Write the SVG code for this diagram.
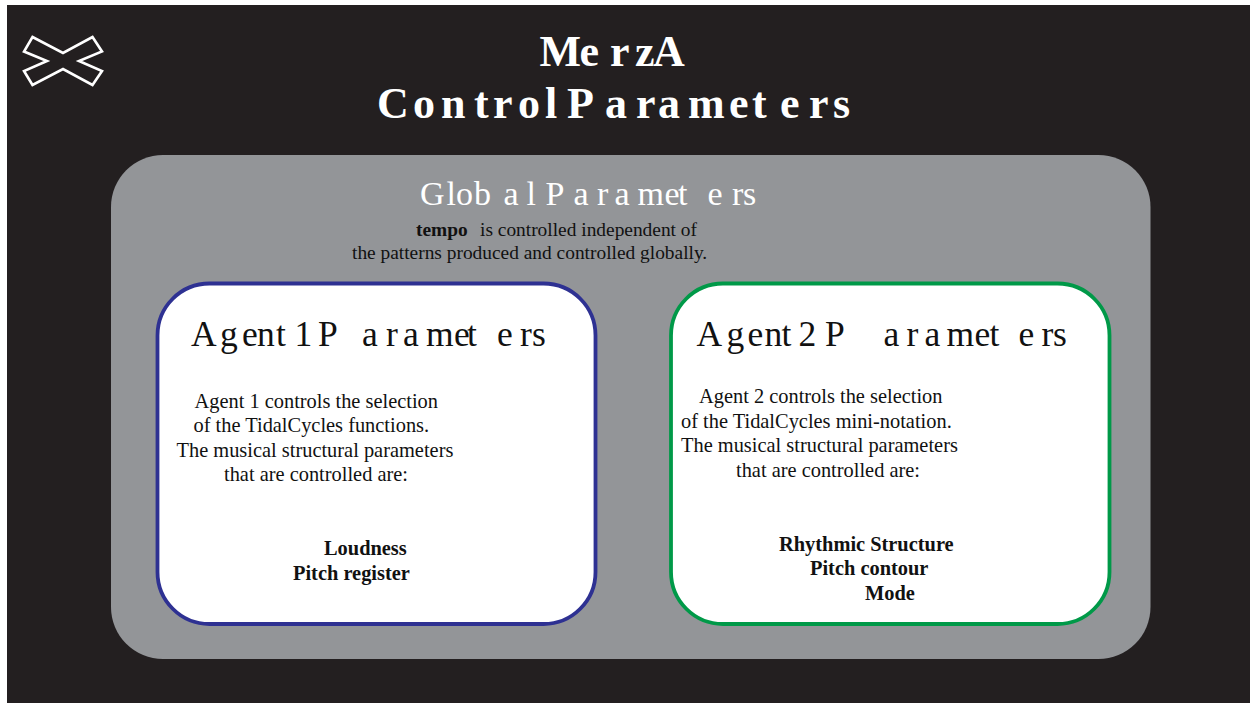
<svg xmlns="http://www.w3.org/2000/svg" width="1250" height="703" viewBox="0 0 1250 703">
<style>
text{font-family:"Liberation Serif","Times New Roman",serif;fill:#111}
.t{font-size:44px;font-weight:bold;fill:#fff}
.g{font-size:34px;fill:#fff}
.h{font-size:35.5px}
.a{font-size:19.4px}
.b{font-size:20.4px}
.s{font-size:20.4px;font-weight:bold}
.n{stroke-width:3.8;fill:#fff}
</style>
<rect width="1250" height="703" fill="#fff"/>
<rect x="7" y="5" width="1243" height="698" fill="#231f20"/>
<g id="logo"><polygon points="32.5,37 63,53 92.5,37 102,51.5 79,61 102,71 92.5,85 63,69 32.5,85 24,71 47,61 24,51.5" fill="none" stroke="#fff" stroke-width="2.6"/></g>
<g id="title">
<text class="t" y="66" x="539.5 579.5 610 635 653">MerzA</text>
<text class="t" y="118" x="377 413 441 474 493 518 545 567 605 636 658 688 729 752 780 809 833">ControlParameters</text>
</g>
<g id="global">
<rect x="111" y="155" width="1039.5" height="504" rx="52" fill="#939598"/>
<text class="g" y="205" x="420 446.5 456 474 503.5 526.5 545.5 573.5 597 614.5 637.5 664.5 678 707.5 732 743">GlobalParameters</text>
<text class="a" y="236" x="416" style="font-weight:bold">tempo</text>
<text class="a" y="236" x="480">is controlled independent of</text>
<text class="a" y="259" x="352">the patterns produced and controlled globally.</text>
</g>
<g id="agent1">
<rect class="n" x="157.5" y="283.5" width="438" height="340.5" rx="52" stroke="#2e3192"/>
<text class="h" y="346" x="191 220 242 257 276 294.5 318 362 386 403 426 454 467 497 520 532">Agent1Parameters</text>
<text class="b" y="408" x="194.5">Agent 1 controls the selection</text>
<text class="b" y="432" x="193.5">of the TidalCycles functions.</text>
<text class="b" y="457" x="176.5">The musical structural parameters</text>
<text class="b" y="481" x="224">that are controlled are:</text>
<text class="s" y="555" x="324">Loudness</text>
<text class="s" y="580" x="293">Pitch register</text>
</g>
<g id="agent2">
<rect class="n" x="671" y="283.5" width="438.5" height="340.5" rx="52" stroke="#009948"/>
<text class="h" y="346" x="696.5 726.5 747.5 764.5 781.5 798.5 825 883.5 906.5 924.5 946.5 974.5 989.5 1018.5 1041.5 1053">Agent2Parameters</text>
<text class="b" y="403" x="699">Agent 2 controls the selection</text>
<text class="b" y="428" x="681">of the TidalCycles mini-notation.</text>
<text class="b" y="452" x="681">The musical structural parameters</text>
<text class="b" y="477" x="736">that are controlled are:</text>
<text class="s" y="551" x="779">Rhythmic Structure</text>
<text class="s" y="575" x="810">Pitch contour</text>
<text class="s" y="600" x="865">Mode</text>
</g>
<g id="connectors"></g>
</svg>
